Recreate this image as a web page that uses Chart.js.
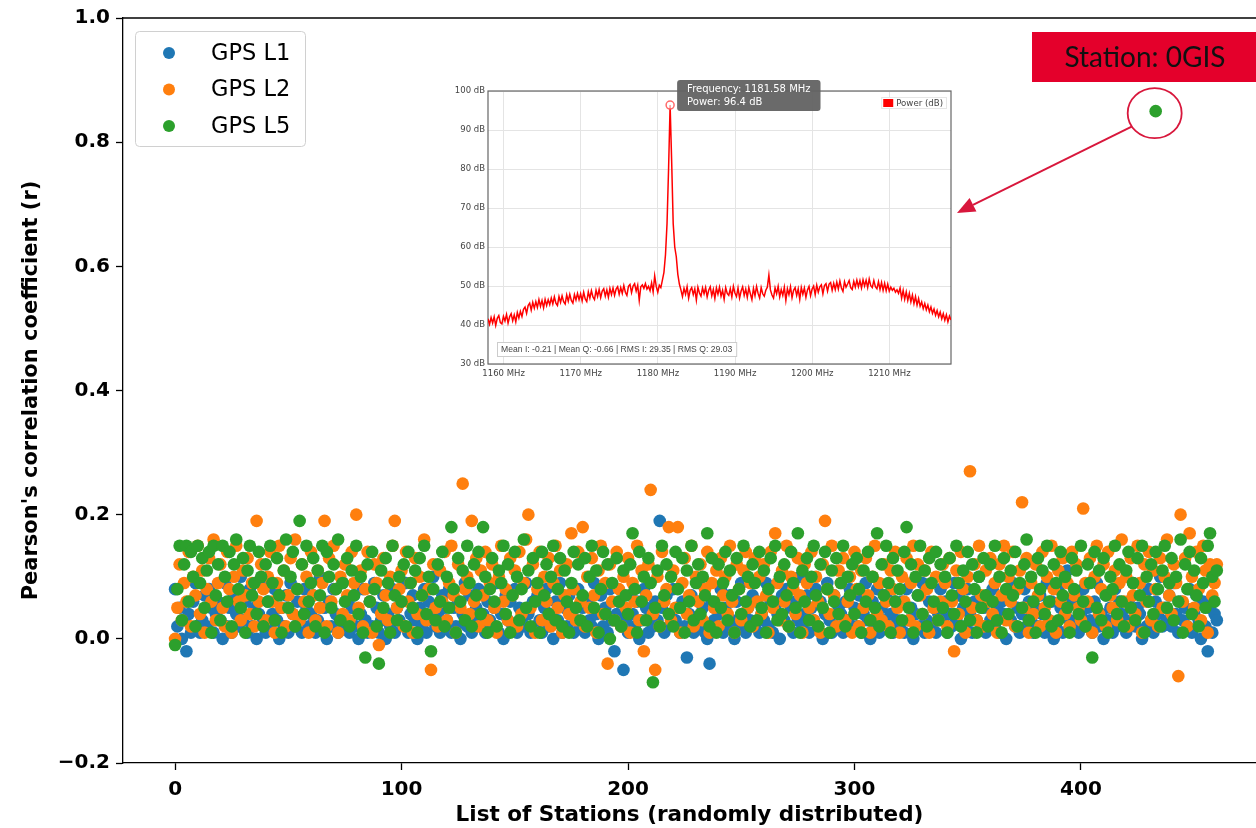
<!DOCTYPE html>
<html>
<head>
<meta charset="utf-8">
<script src="https://cdn.jsdelivr.net/npm/chart.js@4.4.1/dist/chart.umd.min.js"></script>
<style>
  html, body { margin: 0; padding: 0; background: #fff; }
  #wrap { position: relative; width: 1256px; height: 828px; overflow: hidden; }
  #mainChart { position: absolute; left: 0; top: 0; }
  #insetChart { position: absolute; left: 450px; top: 70px; }
</style>
</head>
<body>
<div id="wrap">
  <canvas id="mainChart" width="1256" height="828"></canvas>
  <canvas id="insetChart" width="510" height="315"></canvas>
</div>
<script>
// Pearson's r per station, in hundredths (station = array index)
const seriesNames = ['GPS L1', 'GPS L2', 'GPS L5'];
const seriesColors = ['#1f77b4', '#ff7f0e', '#2ca02c'];

const gpsL1 = [
  8,2,5,0,3,-2,4,1,6,9,2,1,3,7,2,8,5,1,4,6,
  3,0,9,2,5,1,7,4,2,10,3,6,1,8,2,5,0,4,9,3,
  1,6,2,4,8,3,0,5,2,7,1,9,4,2,6,3,1,8,5,2,
  4,7,1,3,10,2,5,0,6,2,8,4,1,3,9,2,6,1,5,7,
  2,0,4,8,3,1,6,2,9,5,1,3,7,0,4,2,8,1,5,3,
  6,2,9,1,4,7,3,0,5,2,8,1,6,3,10,2,4,1,7,5,
  3,8,1,5,2,6,0,4,9,2,7,1,3,5,8,2,4,1,6,3,
  2,5,9,1,4,0,7,3,6,2,8,1,5,3,2,9,4,1,6,2,
  7,3,1,5,8,2,4,0,6,3,9,1,5,2,7,4,1,3,8,2,
  5,1,6,3,2,9,4,0,7,2,5,1,8,3,-2,4,6,2,-5,3,
  1,7,4,2,6,0,3,8,5,1,4,2,6,3,19,5,1,7,2,4,
  8,3,5,1,6,2,-3,4,7,1,3,9,2,5,1,0,-4,6,3,2,
  4,8,1,5,2,7,3,0,6,2,9,4,1,5,3,7,2,6,1,4,
  3,9,2,6,1,5,4,0,7,3,8,2,5,1,6,3,10,2,4,7,
  1,5,3,8,2,6,0,4,9,3,1,7,2,5,4,1,6,3,8,2,
  5,2,7,1,4,9,3,0,6,2,8,1,5,3,7,2,4,1,6,3,
  2,6,1,8,3,5,0,4,7,2,9,1,3,6,2,5,1,4,8,3,
  6,1,4,2,9,3,7,0,5,2,8,4,1,6,3,10,2,5,1,7,
  3,8,2,5,1,6,4,0,7,3,9,2,5,1,4,8,2,6,3,1,
  5,2,7,4,1,9,3,6,0,2,8,5,1,4,11,3,6,2,7,1,
  4,8,2,5,3,1,6,9,2,4,0,7,3,5,1,8,2,6,4,3,
  1,6,3,9,2,5,4,0,7,2,8,3,1,6,4,10,2,5,3,7,
  2,9,4,1,6,3,5,2,8,1,4,7,3,0,6,2,-2,5,1,4,
  3
];

const gpsL2 = [
  0,5,12,3,9,6,14,2,10,7,15,4,11,1,8,13,6,16,3,9,
  12,5,2,14,8,1,10,15,6,3,11,7,13,4,9,2,19,6,12,8,
  3,10,14,6,1,9,15,5,11,2,7,13,4,16,8,3,12,6,10,1,
  14,7,3,11,5,9,19,2,13,6,15,8,1,10,4,12,7,3,14,9,
  20,5,11,2,8,14,6,1,12,9,-1,4,13,7,3,10,15,19,5,8,
  11,2,14,6,9,1,13,4,10,7,16,3,8,-5,12,5,2,11,6,14,
  3,9,15,7,1,12,5,25,8,10,4,19,6,13,2,11,7,14,3,9,
  12,5,1,10,15,6,8,3,13,7,11,2,14,4,9,16,20,5,12,1,
  8,14,3,10,6,13,2,9,15,5,11,1,7,12,4,17,8,3,14,6,
  18,2,10,5,13,7,1,11,15,4,9,-4,12,6,3,14,8,2,10,5,
  13,1,9,6,15,3,11,-2,7,12,24,4,-5,10,2,14,6,8,18,3,
  11,5,18,1,9,13,4,7,15,2,10,6,12,3,8,14,1,9,5,11,
  2,13,7,10,4,15,6,1,12,8,3,11,14,5,9,2,13,6,10,4,
  12,7,1,14,5,17,9,3,11,6,15,2,10,8,4,13,7,1,12,9,
  5,14,3,10,6,1,12,19,8,4,15,7,2,11,9,13,3,6,10,1,
  14,8,2,11,5,13,7,1,10,15,4,9,3,12,6,2,11,8,14,5,
  1,10,6,13,3,9,15,2,12,7,4,11,8,1,14,5,10,3,6,12,
  9,2,13,6,-2,11,4,14,8,1,10,27,5,12,3,15,7,2,11,6,
  13,4,9,1,12,7,15,3,10,6,14,2,8,11,22,5,13,1,9,4,
  12,7,2,14,5,10,3,15,8,1,11,6,13,4,9,2,14,7,12,5,
  3,21,9,6,13,1,10,15,4,8,12,2,14,7,5,11,3,9,16,6,
  10,2,13,7,4,15,9,1,12,6,14,3,11,8,2,13,5,10,16,7,
  4,12,9,-6,20,6,13,2,17,10,5,14,8,3,15,11,1,12,7,9,
  12
];

const gpsL5 = [
  -1,8,15,3,12,15,6,14,10,2,15,9,13,5,11,14,1,15,7,12,
  3,15,10,6,14,2,12,16,8,5,13,1,11,15,7,9,4,14,10,2,
  12,6,15,9,3,13,7,1,11,16,5,10,14,2,8,19,12,4,15,6,
  9,13,2,11,7,15,1,14,10,5,12,8,16,3,9,6,13,2,11,7,
  15,4,10,1,-3,12,6,14,8,2,-4,11,5,13,9,1,15,7,3,10,
  6,12,2,14,9,5,11,1,13,7,15,4,10,-2,8,3,12,6,14,2,
  10,5,18,8,1,13,6,11,3,15,9,2,12,7,14,4,18,10,1,8,
  13,6,2,11,9,15,4,12,1,7,14,10,3,8,16,5,11,2,13,6,
  9,1,14,7,12,4,10,15,3,8,13,2,11,6,1,9,14,5,12,3,
  7,13,2,10,15,5,11,1,8,14,4,12,0,9,3,13,6,2,11,7,
  4,12,17,8,1,14,6,10,3,13,9,-7,5,11,2,15,7,12,4,10,
  2,14,8,5,13,1,11,6,15,3,9,12,4,10,7,17,2,13,6,1,
  12,5,9,14,3,11,7,1,13,8,4,15,6,10,2,12,9,3,14,5,
  11,1,8,13,6,15,3,10,4,12,7,2,14,9,5,17,1,11,6,13,
  3,10,15,7,2,12,5,14,8,1,11,6,13,4,9,15,2,10,7,12,
  4,13,8,1,11,6,14,3,10,5,17,2,12,7,15,9,1,13,6,11,
  8,3,14,18,5,12,1,10,7,15,4,11,2,13,9,6,14,3,12,5,
  10,1,13,7,4,15,9,2,11,6,14,3,12,8,1,10,5,13,7,2,
  12,6,15,3,10,1,13,8,4,11,7,14,2,9,5,12,16,3,10,6,
  1,13,8,11,4,15,6,2,12,9,3,14,7,10,5,1,13,8,11,4,
  15,6,2,12,9,-3,14,5,11,3,13,7,1,10,8,15,4,12,6,2,
  11,14,5,9,3,13,7,15,1,10,6,12,4,14,8,2,11,15,5,9,
  13,3,10,6,16,1,12,8,14,4,11,7,2,13,9,5,15,17,10,6,
  11
];

// highlighted station
const gisName = 'Station: 0GIS';
const gisStation = 433;
const gisValue = 0.85;

const stationTicks = [0, 100, 200, 300, 400];
const rTicks = [-0.2, 0, 0.2, 0.4, 0.6, 0.8, 1.0];

// Inset spectrum (dB), one bin every 0.2 MHz from 1157.98 MHz
const freqStart = 1157.98;
const freqStep = 0.2;
const spectrumPower = [
  41.6,40.2,41.9,40.5,42.1,39.9,41.7,42.4,40.6,40.3,42.2,41.0,42.7,40.5,42.1,42.9,41.1,42.6,40.8,43.2,
  41.8,43.5,42.2,44.0,44.6,43.0,45.0,45.6,43.8,45.8,44.3,46.0,44.5,46.5,44.8,46.3,44.4,46.6,45.0,46.5,
  45.2,46.9,45.4,47.2,45.6,45.0,47.3,45.8,47.5,46.0,45.4,47.7,46.1,47.9,46.3,45.6,47.8,46.4,48.1,46.5,
  48.0,46.2,48.4,46.7,46.0,48.5,46.9,48.8,47.2,46.5,48.9,47.3,49.1,47.0,48.7,49.3,47.4,49.0,47.1,49.4,
  47.8,49.5,47.6,49.2,49.8,47.9,49.6,48.1,50.1,48.4,47.6,49.9,50.4,48.3,50.0,50.6,48.7,50.2,46.3,49.8,
  50.3,49.4,50.6,49.2,49.9,48.8,50.8,48.5,52.6,49.9,48.4,50.2,49.6,51.5,53.5,58.0,66.0,80.0,96.4,82.0,
  66.0,60.0,57.5,53.0,50.5,49.0,47.3,49.4,47.9,49.8,46.9,48.9,49.6,47.8,49.3,46.4,49.7,48.2,47.4,49.5,
  48.0,49.6,47.2,48.9,49.8,47.5,49.1,46.8,49.5,47.9,49.7,47.4,48.9,46.6,49.6,48.1,47.6,49.3,47.2,49.9,
  48.2,47.3,49.5,46.9,48.7,49.8,47.6,49.2,47.1,49.6,48.0,46.5,49.4,47.5,49.9,48.1,46.9,49.6,48.0,47.4,
  48.9,49.7,52.8,49.0,47.7,46.9,49.5,48.0,49.9,47.2,49.1,47.6,49.7,46.3,49.3,47.8,49.8,47.0,48.9,49.6,
  47.6,49.3,46.6,49.6,47.9,49.5,47.1,49.0,49.9,47.5,49.2,50.0,47.8,50.2,48.4,49.8,50.3,48.0,50.1,50.6,
  48.7,50.5,50.9,48.9,50.7,49.1,51.0,49.2,51.3,49.5,48.6,51.1,49.7,50.5,51.4,49.6,49.1,51.2,49.7,51.5,
  49.8,51.4,49.5,51.6,50.0,51.5,49.6,51.8,50.1,49.6,51.4,49.8,49.3,51.1,49.1,50.9,48.9,50.7,48.8,50.5,
  48.7,49.7,48.9,49.4,48.4,49.0,48.1,49.5,46.9,48.9,46.6,48.5,46.3,48.1,45.9,47.7,45.5,47.3,45.1,46.8,
  44.8,45.9,44.2,45.5,43.9,45.1,43.4,44.6,43.0,44.1,42.5,43.7,42.1,43.3,41.6,42.9,41.2,42.6,40.8,42.3,
  41.3
];
const freqTicks = [1160, 1170, 1180, 1190, 1200, 1210];

// IQ stats shown in the inset footer
const meanI = -0.21;
const meanQ = -0.66;
const rmsI = 29.35;
const rmsQ = 29.03;

Chart.defaults.font.family = "'DejaVu Sans', sans-serif";

const annotRed = '#d8173c';

// Convert hundredths to r, x = station index
function toPoints(values) {
    return values.map((v, i) => ({ x: i, y: v / 100 }));
}

// Frame, legend and the 0GIS annotation on the main chart
const mainDecor = {
    id: 'mainDecor',
    afterDraw(chart) {
        const { ctx, chartArea: a, scales } = chart;
        ctx.save();

        // top spine
        ctx.strokeStyle = '#000';
        ctx.lineWidth = 1.3;
        ctx.beginPath();
        ctx.moveTo(a.left, a.top);
        ctx.lineTo(a.right, a.top);
        ctx.stroke();

        // legend box
        const lx = 135, ly = 31;
        ctx.fillStyle = 'rgba(255,255,255,0.85)';
        ctx.strokeStyle = '#d0d0d0';
        ctx.lineWidth = 1;
        ctx.beginPath();
        ctx.roundRect(lx + 0.5, ly + 0.5, 170, 115, 4);
        ctx.fill();
        ctx.stroke();
        ctx.font = "22.5px 'DejaVu Sans'";
        ctx.textBaseline = 'middle';
        ctx.textAlign = 'left';
        seriesNames.forEach((name, k) => {
            const cy = ly + 22 + k * 36.5;
            ctx.fillStyle = seriesColors[k];
            ctx.beginPath();
            ctx.arc(lx + 34, cy, 6, 0, Math.PI * 2);
            ctx.fill();
            ctx.fillStyle = '#000';
            ctx.fillText(name, lx + 76, cy + 1);
        });

        // circle round the 0GIS point and arrow to the inset
        const px = scales.x.getPixelForValue(gisStation);
        const py = scales.y.getPixelForValue(gisValue);
        const rx = 27, ry = 25;
        ctx.strokeStyle = annotRed;
        ctx.lineWidth = 1.8;
        ctx.beginPath();
        ctx.ellipse(px - 1, py + 2, rx, ry, 0, 0, Math.PI * 2);
        ctx.stroke();

        const tipX = 957, tipY = 213;
        const ang = Math.atan2(tipY - py, tipX - px);
        const sx = px + rx * Math.cos(ang), sy = py + 4 + ry * Math.sin(ang);
        const headLen = 18, headW = 7.5;
        const bx = tipX - headLen * Math.cos(ang), by = tipY - headLen * Math.sin(ang);
        ctx.lineWidth = 2;
        ctx.beginPath();
        ctx.moveTo(sx, sy);
        ctx.lineTo(bx, by);
        ctx.stroke();
        ctx.fillStyle = annotRed;
        ctx.beginPath();
        ctx.moveTo(tipX, tipY);
        ctx.lineTo(bx + headW * Math.sin(ang), by - headW * Math.cos(ang));
        ctx.lineTo(bx - headW * Math.sin(ang), by + headW * Math.cos(ang));
        ctx.closePath();
        ctx.fill();

        // station label
        ctx.fillStyle = '#e4002b';
        ctx.fillRect(1032, 32, 224, 50);
        ctx.fillStyle = '#111';
        ctx.font = "28px Lato, 'Open Sans', sans-serif";
        ctx.textAlign = 'center';
        ctx.fillText(gisName, 1145, 58);

        ctx.restore();
    }
};

const mainChart = new Chart(document.getElementById('mainChart'), {
    type: 'scatter',
    data: {
        datasets: [
            { label: seriesNames[0], data: toPoints(gpsL1), backgroundColor: seriesColors[0], borderColor: seriesColors[0], order: 3 },
            { label: seriesNames[1], data: toPoints(gpsL2), backgroundColor: seriesColors[1], borderColor: seriesColors[1], order: 2 },
            { label: seriesNames[2], data: toPoints(gpsL5), backgroundColor: seriesColors[2], borderColor: seriesColors[2], order: 1 },
            { label: '0GIS', data: [{ x: gisStation, y: gisValue }], backgroundColor: seriesColors[2], borderColor: seriesColors[2], order: 0 }
        ]
    },
    options: {
        responsive: false,
        animation: false,
        events: [],
        elements: { point: { radius: 6.3, hoverRadius: 6.3, borderWidth: 0 } },
        layout: { autoPadding: false, padding: { top: 18, right: 0, bottom: 0, left: 0 } },
        plugins: {
            legend: { display: false },
            tooltip: { enabled: false }
        },
        scales: {
            x: {
                type: 'linear',
                min: -23,
                max: 477.3,
                afterFit: scale => { scale.height = 65; },
                afterBuildTicks: scale => { scale.ticks = stationTicks.map(v => ({ value: v })); },
                grid: { drawOnChartArea: false, tickLength: 7, tickColor: '#000', tickWidth: 1.3 },
                border: { color: '#000', width: 1.3 },
                ticks: { color: '#000', font: { size: 20, weight: 'bold' }, padding: 8, maxRotation: 0 },
                title: {
                    display: true,
                    text: 'List of Stations (randomly distributed)',
                    color: '#000',
                    font: { size: 21.5, weight: 'bold' },
                    padding: { top: 0, bottom: 0 }
                }
            },
            y: {
                min: -0.2,
                max: 1.0,
                afterFit: scale => { scale.width = 123; },
                afterBuildTicks: scale => { scale.ticks = rTicks.map(v => ({ value: v })); },
                grid: { drawOnChartArea: false, tickLength: 7, tickColor: '#000', tickWidth: 1.3 },
                border: { color: '#000', width: 1.3 },
                ticks: {
                    color: '#000',
                    font: { size: 20, weight: 'bold' },
                    padding: 6,
                    callback: v => (v < 0 ? '\u2212' : '') + Math.abs(v).toFixed(1)
                },
                title: {
                    display: true,
                    text: "Pearson's correlation coefficient (r)",
                    color: '#000',
                    font: { size: 21, weight: 'bold' },
                    padding: { top: 19, bottom: 0 }
                }
            }
        }
    },
    plugins: [mainDecor]
});

// ---- Inset: spectrum of station 0GIS ----
const peakIndex = spectrumPower.indexOf(Math.max(...spectrumPower));

Chart.Tooltip.positioners.peakRight = function(elements) {
    if (!elements.length) return false;
    const el = elements[0].element;
    return { x: el.x + 10, y: el.y - 25 };
};

const insetDecor = {
    id: 'insetDecor',
    beforeDraw(chart) {
        const { ctx, chartArea: a } = chart;
        ctx.save();
        ctx.fillStyle = '#fff';
        ctx.fillRect(a.left, a.top, a.right - a.left, a.bottom - a.top);
        ctx.restore();
    },
    beforeDatasetsDraw(chart) {
        const { ctx, chartArea: a } = chart;
        ctx.save();
        ctx.strokeStyle = '#666';
        ctx.lineWidth = 1.2;
        ctx.strokeRect(a.left, a.top, a.right - a.left, a.bottom - a.top);
        ctx.restore();
    },
    afterDatasetsDraw(chart) {
        const { ctx, chartArea: a } = chart;
        const ds = chart.data.datasets[0];
        ctx.save();

        // stats footer
        const text = 'Mean I: ' + meanI.toFixed(2) + ' | Mean Q: ' + meanQ.toFixed(2) +
            ' | RMS I: ' + rmsI.toFixed(2) + ' | RMS Q: ' + rmsQ.toFixed(2);
        ctx.font = "8.6px 'Liberation Sans', sans-serif";
        const w = ctx.measureText(text).width + 8;
        const bx = a.left + 9, by = a.bottom - 22;
        ctx.fillStyle = '#fff';
        ctx.fillRect(bx, by, w, 14);
        ctx.strokeStyle = '#ccc';
        ctx.lineWidth = 1;
        ctx.strokeRect(bx + 0.5, by + 0.5, w, 14);
        ctx.fillStyle = '#444';
        ctx.textBaseline = 'middle';
        ctx.fillText(text, bx + 4, by + 7.5);

        // legend, top right inside the plot
        ctx.font = "8.6px 'DejaVu Sans', sans-serif";
        const tw = ctx.measureText(ds.label).width;
        const lr = a.right - 4, lt = a.top + 6;
        const lx = lr - tw - 17;
        ctx.fillStyle = 'rgba(255,255,255,0.9)';
        ctx.fillRect(lx - 2, lt, tw + 19, 12);
        ctx.strokeStyle = '#e6e6e6';
        ctx.strokeRect(lx - 1.5, lt + 0.5, tw + 18, 11);
        ctx.fillStyle = ds.borderColor;
        ctx.fillRect(lx, lt + 2, 10, 8);
        ctx.fillStyle = '#444';
        ctx.fillText(ds.label, lx + 13, lt + 6.5);

        ctx.restore();
    }
};

const insetChart = new Chart(document.getElementById('insetChart'), {
    type: 'line',
    data: {
        datasets: [{
            label: 'Power (dB)',
            data: spectrumPower.map((p, i) => ({ x: freqStart + i * freqStep, y: p })),
            borderColor: '#ff0000',
            backgroundColor: '#ff0000',
            borderWidth: 1.5,
            tension: 0,
            pointRadius: ctx => (ctx.dataIndex === peakIndex ? 4 : 0),
            pointHoverRadius: ctx => (ctx.dataIndex === peakIndex ? 4 : 0),
            pointBorderColor: 'rgba(255,90,90,0.9)',
            pointBackgroundColor: 'rgba(255,255,255,0.6)',
            pointBorderWidth: 1.5
        }]
    },
    options: {
        responsive: false,
        animation: false,
        events: [],
        layout: { autoPadding: false, padding: { top: 21, right: 9, bottom: 0, left: 0 } },
        plugins: {
            legend: { display: false },
            tooltip: {
                position: 'peakRight',
                xAlign: 'left',
                yAlign: 'top',
                caretSize: 0,
                caretPadding: 0,
                cornerRadius: 3,
                displayColors: false,
                backgroundColor: 'rgba(98,98,98,0.95)',
                titleColor: '#fff',
                bodyColor: '#fff',
                titleFont: { size: 10, weight: 'normal' },
                bodyFont: { size: 10 },
                titleMarginBottom: 1,
                padding: { x: 10, y: 3 },
                callbacks: {
                    title: items => 'Frequency: ' + items[0].parsed.x.toFixed(2) + ' MHz',
                    label: item => 'Power: ' + item.parsed.y + ' dB'
                }
            }
        },
        scales: {
            x: {
                type: 'linear',
                min: freqStart,
                max: freqStart + (spectrumPower.length - 1) * freqStep,
                afterFit: scale => { scale.height = 21; },
                afterBuildTicks: scale => { scale.ticks = freqTicks.map(v => ({ value: v })); },
                grid: { color: '#e4e4e4', drawTicks: false },
                border: { display: false },
                ticks: { color: '#444', font: { size: 8.5 }, padding: 5, maxRotation: 0, callback: v => v + ' MHz' }
            },
            y: {
                min: 30,
                max: 100,
                afterFit: scale => { scale.width = 38; },
                grid: { color: '#e4e4e4', drawTicks: false },
                border: { display: false },
                ticks: { stepSize: 10, color: '#444', font: { size: 8.5 }, padding: 3, callback: v => v + ' dB' }
            }
        }
    },
    plugins: [insetDecor]
});

insetChart.tooltip.setActiveElements([{ datasetIndex: 0, index: peakIndex }], { x: 0, y: 0 });
insetChart.update();
</script>
</body>
</html>
